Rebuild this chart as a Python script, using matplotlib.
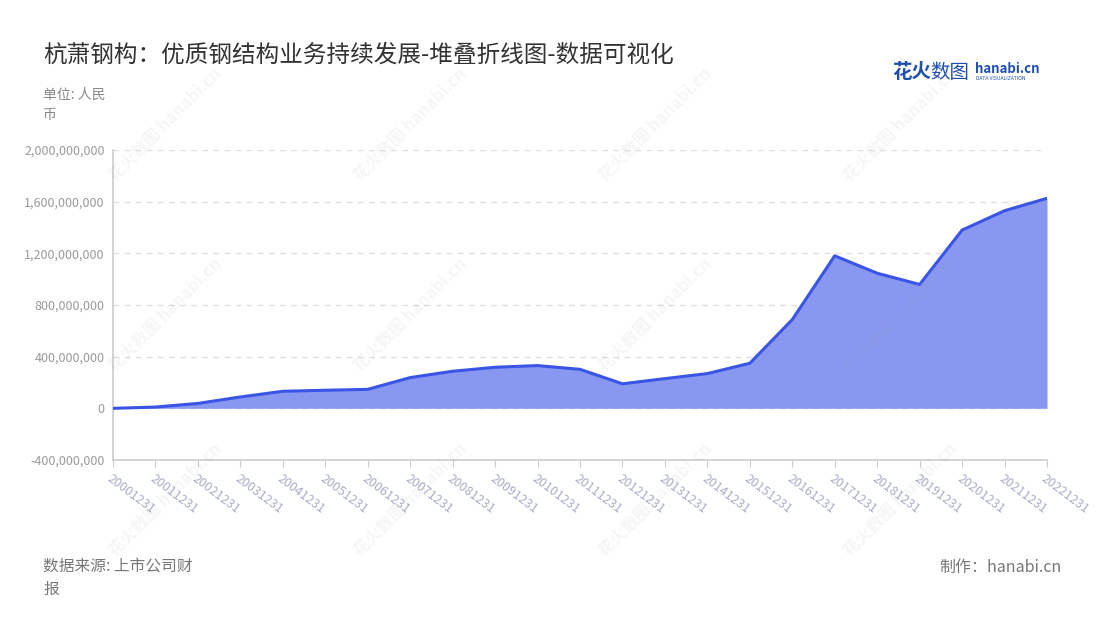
import matplotlib
matplotlib.use('Agg')
import matplotlib.pyplot as plt
import numpy as np

plt.rcParams['font.family'] = ['Noto Sans CJK SC', 'DejaVu Sans']

# data (RMB)
dates = ['20001231', '20011231', '20021231', '20031231', '20041231', '20051231',
         '20061231', '20071231', '20081231', '20091231', '20101231', '20111231',
         '20121231', '20131231', '20141231', '20151231', '20161231', '20171231',
         '20181231', '20191231', '20201231', '20211231', '20221231']
values = [0, 10e6, 38e6, 88e6, 132e6, 140e6,
          147e6, 238e6, 287e6, 318e6, 331e6, 302e6,
          190e6, 230e6, 269e6, 349e6, 687e6, 1181e6,
          1046e6, 959e6, 1380e6, 1530e6, 1626e6]
yticks = [-400e6, 0, 400e6, 800e6, 1200e6, 1600e6, 2000e6]

fig = plt.figure(figsize=(11, 6.2), dpi=100)
ax = fig.add_axes([113 / 1100, 1 - 460 / 620, (1047 - 113) / 1100, 310 / 620])

x = np.arange(len(dates))
ax.fill_between(x, 0, values, color='#8897f0', linewidth=0, zorder=2)
ax.plot(x, values, color='#3a55e6', linewidth=2.2, zorder=3)

ax.set_xlim(0, len(dates) - 1)
ax.set_ylim(-400e6, 2000e6)
ax.set_yticks(yticks)
ax.set_yticklabels([f'{int(v):,}' for v in yticks])
ax.set_xticks(x)
ax.set_xticklabels(dates, rotation=-37, ha='left', va='top', rotation_mode='anchor')

ax.grid(axis='y', color='#e0e0e0', linestyle=(0, (4, 4)), linewidth=1, zorder=1)
for s in ['top', 'right']:
    ax.spines[s].set_visible(False)
ax.spines['left'].set_color('#cccccc')
ax.spines['bottom'].set_color('#cccccc')
ax.spines['left'].set_linewidth(1.2)
ax.spines['bottom'].set_linewidth(1.2)
ax.tick_params(axis='y', length=0, labelcolor='#9a9a9a', labelsize=9, pad=6)
ax.tick_params(axis='x', length=5, color='#cccccc', labelcolor='#a8aec4', labelsize=9, pad=4)

# titles and notes
fig.text(43 / 1100, 1 - 55 / 620, '杭萧钢构：优质钢结构业务持续发展-堆叠折线图-数据可视化',
         fontsize=17, color='#333333', va='center', ha='left')
fig.text(43 / 1100, 1 - 105 / 620, '单位: 人民\n币', fontsize=10, color='#888888',
         va='center', ha='left', linespacing=1.5)
fig.text(43 / 1100, 1 - 578 / 620, '数据来源: 上市公司财\n报', fontsize=11.3, color='#777777',
         va='center', ha='left', linespacing=1.5)
fig.text(1062 / 1100, 1 - 567 / 620, '制作：hanabi.cn', fontsize=11.5, color='#777777',
         va='center', ha='right')

# logo
fig.text(892 / 1100, 1 - 72 / 620, '花火', fontsize=14, color='#1f4fb0', fontweight='bold',
         va='center', ha='left')
fig.text(930 / 1100, 1 - 72 / 620, '数图', fontsize=14, color='#1f4fb0',
         va='center', ha='left')
fig.text(975 / 1100, 1 - 69 / 620, 'hanabi.cn', fontsize=9.5, color='#1f4fb0', fontweight='bold',
         va='center', ha='left')
fig.text(976 / 1100, 1 - 79 / 620, 'DATA VISUALIZATION', fontsize=3.6, color='#1f4fb0',
         va='center', ha='left')

# watermarks
for wx in [165, 410, 655, 900]:
    for wy in [125, 315, 500]:
        fig.text(wx / 1100, 1 - wy / 620, '花火数图 hanabi.cn', fontsize=12, color='#999999',
                 alpha=0.09, rotation=45, ha='center', va='center', fontweight='bold', zorder=10)

fig.savefig('out.png', dpi=100)
